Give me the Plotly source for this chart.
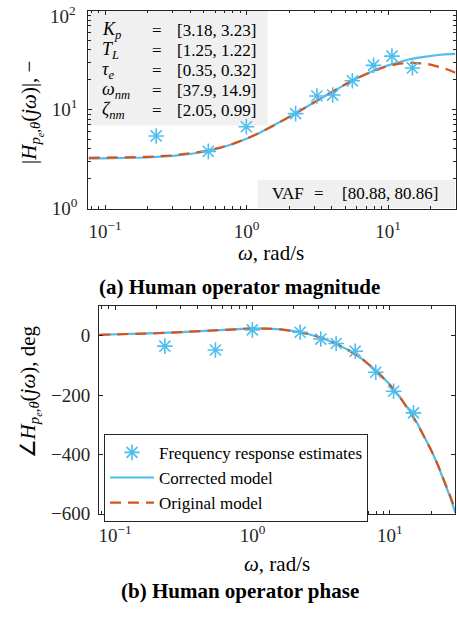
import plotly.graph_objects as go

# ---------------- data ----------------
# frequency-response estimate frequencies (rad/s)
w_est = [0.230, 0.537, 0.997, 2.224, 3.145, 4.065, 5.599, 7.900, 10.661, 14.880]
mag_est = [5.41, 3.78, 6.70, 9.08, 13.7, 14.0, 19.5, 27.9, 34.6, 26.3]
phase_est = [-35, -48, 20, 12, -11, -26, -52, -123, -187, -260]

# model curve frequencies (rad/s)
w_mod = [0.0767, 0.1, 0.15, 0.2, 0.3, 0.4, 0.5, 0.65, 0.8, 1.0, 1.25, 1.6, 2.0, 2.5,
         3.2, 4.0, 5.0, 6.3, 8.0, 10, 12, 14, 16, 18, 20, 22.5, 25, 27.5, 30]
mag_corr = [3.195, 3.205, 3.235, 3.277, 3.395, 3.552, 3.745, 4.088, 4.483, 5.064, 5.852,
            7.019, 8.391, 10.113, 12.469, 15.022, 17.945, 21.259, 24.790, 27.946, 30.266,
            31.971, 33.233, 34.175, 34.883, 35.529, 35.984, 36.301, 36.514]
mag_orig = [3.244, 3.254, 3.283, 3.324, 3.437, 3.592, 3.779, 4.115, 4.501, 5.073, 5.851,
            7.007, 8.373, 10.094, 12.464, 15.046, 18.011, 21.348, 24.772, 27.496, 29.028,
            29.648, 29.618, 29.153, 28.416, 27.279, 26.039, 24.779, 23.550]
phase_corr = [3.46, 4.50, 6.68, 8.79, 12.69, 16.07, 18.89, 22.03, 24.01, 25.11, 24.60,
              21.51, 15.85, 6.93, -7.43, -25.16, -48.20, -78.61, -118.31, -164.41, -209.74,
              -254.34, -298.32, -341.83, -384.93, -438.36, -491.38, -544.12, -596.59]
phase_orig = [3.36, 4.36, 6.48, 8.52, 12.32, 15.63, 18.41, 21.55, 23.56, 24.72, 24.33,
              21.41, 15.90, 7.14, -7.07, -24.72, -47.82, -78.47, -118.72, -165.57, -211.50,
              -256.44, -300.41, -343.51, -385.84, -437.81, -488.91, -539.29, -589.08]

param_names = ["<i>K</i><sub><i>p</i></sub>", "<i>T</i><sub><i>L</i></sub>",
               "<i>τ</i><sub><i>e</i></sub>", "<i>ω</i><sub><i>nm</i></sub>",
               "<i>ζ</i><sub><i>nm</i></sub>"]
param_vals = ["[3.18, 3.23]", "[1.25, 1.22]", "[0.35, 0.32]", "[37.9, 14.9]", "[2.05, 0.99]"]
vaf_text = "[80.88, 80.86]"

x_tickvals = [0.1, 1, 10]
x_ticktext = ["10<sup>−1</sup>", "10<sup>0</sup>", "10<sup>1</sup>"]
ymag_tickvals = [1, 10, 100]
ymag_ticktext = ["10<sup>0</sup>", "10<sup>1</sup>", ""]
ymag_top_label = "10<sup>2</sup>"
yph_tickvals = [0, -200, -400, -600]
yph_ticktext = ["0", "−200", "−400", "−600"]

# ---------------- styling ----------------
W, H = 457, 617
BLUE = "#4DBEEE"
ORANGE = "#D95319"
AX = "#262626"
SERIF = "Liberation Serif"
FS_TICK = 19
FS_LAB = 21
FS_BOX = 17
FS_LEG = 17

def px(x):
    return x / W

def py(y):
    return (H - y) / H

minor_log = [m * 10.0 ** e for e in (-2, -1, 0, 1) for m in range(2, 10)]

def axis_common():
    return dict(showline=True, linecolor=AX, linewidth=1, mirror="allticks",
                ticks="inside", ticklen=4, tickcolor=AX, tickwidth=1,
                showgrid=False, zeroline=False,
                tickfont=dict(family=SERIF, size=FS_TICK, color=AX))

fig = go.Figure()

for i, (xa, ya) in enumerate([("x", "y"), ("x2", "y2")]):
    yc = mag_corr if i == 0 else phase_corr
    yo = mag_orig if i == 0 else phase_orig
    ye = mag_est if i == 0 else phase_est
    show = i == 1
    fig.add_trace(go.Scatter(x=w_mod, y=yc, mode="lines", name="Corrected model",
                             line=dict(color=BLUE, width=2.2), xaxis=xa, yaxis=ya,
                             showlegend=show, legendrank=2))
    fig.add_trace(go.Scatter(x=w_mod, y=yo, mode="lines", name="Original model",
                             line=dict(color=ORANGE, width=2.2, dash="11px,7px"),
                             xaxis=xa, yaxis=ya, showlegend=show, legendrank=3))
    fig.add_trace(go.Scatter(x=w_est, y=ye, mode="markers",
                             name="Frequency response estimates",
                             marker=dict(symbol="asterisk-open", size=13,
                                         line=dict(color=BLUE, width=1.6), color=BLUE),
                             xaxis=xa, yaxis=ya, showlegend=show, legendrank=1))

xr = [-1.118, 1.477]

fig.update_layout(
    width=W, height=H, autosize=False,
    margin=dict(l=0, r=0, t=0, b=0),
    paper_bgcolor="white", plot_bgcolor="rgba(0,0,0,0)",
    font=dict(family=SERIF, size=FS_TICK, color="black"),
    xaxis=dict(axis_common(), type="log", range=xr, domain=[px(88.3), px(455.5)],
               anchor="y", tickmode="array", tickvals=x_tickvals, ticktext=x_ticktext,
               ticklabelstandoff=6,
               minor=dict(tickmode="array", tickvals=minor_log, ticks="inside",
                          ticklen=2.5, tickcolor=AX)),
    yaxis=dict(axis_common(), type="log", range=[0, 2],
               domain=[py(212.3), py(10.7)],
               anchor="x", tickmode="array", tickvals=ymag_tickvals, ticktext=ymag_ticktext,
               ticklabelstandoff=6,
               minor=dict(tickmode="array", tickvals=minor_log, ticks="inside",
                          ticklen=2.5, tickcolor=AX)),
    xaxis2=dict(axis_common(), type="log", range=xr, domain=[px(99), px(455.3)],
                anchor="y2", tickmode="array", tickvals=x_tickvals, ticktext=x_ticktext,
                ticklabelstandoff=5,
                minor=dict(tickmode="array", tickvals=minor_log, ticks="inside",
                           ticklen=2.5, tickcolor=AX)),
    yaxis2=dict(axis_common(), range=[-600, 100], domain=[py(523), py(311.7)],
                anchor="x2", tickmode="array", tickvals=yph_tickvals, ticktext=yph_ticktext,
                ticklabelstandoff=4),
    legend=dict(x=px(104), y=py(441.7), xanchor="left", yanchor="top",
                bgcolor="white", bordercolor=AX, borderwidth=1,
                font=dict(family=SERIF, size=FS_LEG, color="black"),
                traceorder="normal", itemwidth=44, tracegroupgap=0),
)

# gray text boxes
fig.add_shape(type="rect", xref="paper", yref="paper", x0=px(88.8), x1=px(267.7),
              y0=py(127.7), y1=py(11.2), fillcolor="#f0f0f0", line=dict(width=0),
              layer="below")
fig.add_shape(type="rect", xref="paper", yref="paper", x0=px(257.7), x1=px(455),
              y0=py(211.8), y1=py(183.3), fillcolor="#f0f0f0", line=dict(width=0),
              layer="below")

ann = []
rows_y = [31.5, 51.8, 72.1, 92.4, 112.7]
for name, val, yy in zip(param_names, param_vals, rows_y):
    ann.append(dict(x=px(100), y=py(yy), text=name, xanchor="left", yanchor="middle",
                    size=FS_BOX + 1))
    ann.append(dict(x=px(156.5), y=py(yy), text="=", xanchor="center", yanchor="middle",
                    size=FS_BOX))
    ann.append(dict(x=px(175), y=py(yy), text=val, xanchor="left", yanchor="middle",
                    size=FS_BOX))
ann.append(dict(x=px(270), y=py(197.5), text="VAF", xanchor="left", yanchor="middle",
                size=FS_BOX))
ann.append(dict(x=px(319), y=py(197.5), text="=", xanchor="center", yanchor="middle",
                size=FS_BOX))
ann.append(dict(x=px(340), y=py(197.5), text=vaf_text, xanchor="left", yanchor="middle",
                size=FS_BOX))

# top tick label of the magnitude axis (kept inside the page)
ann.append(dict(x=px(78), y=py(1), text=ymag_top_label, xanchor="right", yanchor="top",
                size=FS_TICK, color=AX))

# axis titles and panel captions
ann.append(dict(x=px(271), y=py(258), text="<i>ω</i>, rad/s", xanchor="center",
                yanchor="middle", size=FS_LAB))
ann.append(dict(x=px(277), y=py(574), text="<i>ω</i>, rad/s", xanchor="center",
                yanchor="middle", size=FS_LAB))
ann.append(dict(x=px(240), y=py(292.5), text="<b>(a) Human operator magnitude</b>",
                xanchor="center", yanchor="middle", size=FS_LAB))
ann.append(dict(x=px(240), y=py(615.5), text="<b>(b) Human operator phase</b>",
                xanchor="center", yanchor="bottom", size=FS_LAB))
ann.append(dict(x=px(31), y=py(115),
                text="|<i>H</i><sub><i>p</i><sub><i>e</i></sub>,<i>θ</i></sub>(<i>jω</i>)|, −",
                textangle=-90, xanchor="center", yanchor="middle", size=FS_LAB))
ann.append(dict(x=px(30), y=py(399.5),
                text="∠<i>H</i><sub><i>p</i><sub><i>e</i></sub>,<i>θ</i></sub>(<i>jω</i>), deg",
                textangle=-90, xanchor="center", yanchor="middle", size=FS_LAB))

for a in ann:
    s = a.pop("size")
    c = a.pop("color", "black")
    a.update(xref="paper", yref="paper", showarrow=False,
             font=dict(family=SERIF, size=s, color=c))
fig.update_layout(annotations=ann)

# keep the page exactly the size of the figure (no page margin / scroll area)
page_fix = ("document.documentElement.style.margin='0';"
            "document.documentElement.style.overflow='hidden';"
            "document.body.style.margin='0';document.body.style.overflow='hidden';"
            "document.body.style.height='617px';")

fig.write_html("out.html", post_script=page_fix)
